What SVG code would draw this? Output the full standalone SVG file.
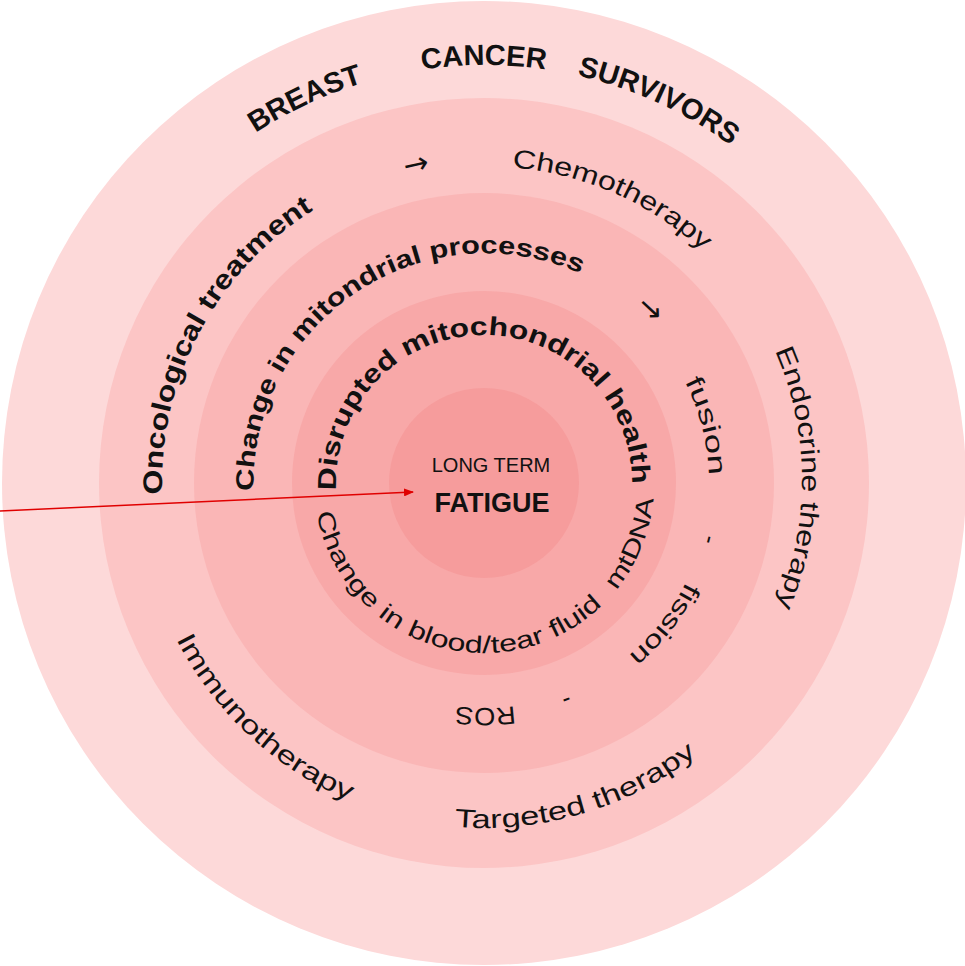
<svg xmlns="http://www.w3.org/2000/svg" width="965" height="966" viewBox="0 0 965 966">
<style>
text{font-family:"Liberation Sans","DejaVu Sans",sans-serif;fill:#111}
.b{font-weight:bold}
.ar{font-family:"DejaVu Sans",sans-serif;font-size:30px}
</style>
<defs>
<path id="p418" d="M122,692 A418,418 0 0 1 846,274 A418,418 0 0 1 122,692"/>
<path id="p322" d="M205.1,644 A322,322 0 0 1 762.9,322 A322,322 0 0 1 205.1,644"/>
<path id="p320" d="M206.9,643 A320,320 0 0 1 761.1,323 A320,320 0 0 1 206.9,643"/>
<path id="p232" d="M283.1,599 A232,232 0 0 1 684.9,367 A232,232 0 0 1 283.1,599"/>
<path id="p225" d="M289.1,595.5 A225,225 0 0 1 678.9,370.5 A225,225 0 0 1 289.1,595.5"/>
<path id="p148" d="M355.8,557 A148,148 0 0 1 612.2,409 A148,148 0 0 1 355.8,557"/>
<path id="q345" d="M139,483 A345,345 0 0 0 829,483"/>
<path id="q170" d="M314,483 A170,170 0 0 0 654,483"/>
<marker id="ah" markerWidth="10" markerHeight="8" refX="9" refY="4" orient="auto" markerUnits="userSpaceOnUse"><path d="M0,0 L10,4 L0,8 z" fill="#e00000"/></marker>
</defs>
<g id="rings">
<circle cx="484" cy="483" r="482" fill="#fdd9d9"/>
<circle cx="484" cy="483" r="385" fill="#fcc5c5"/>
<circle cx="484" cy="483" r="290" fill="#fab6b6"/>
<circle cx="484" cy="483" r="192" fill="#f8a8a8"/>
<circle cx="484" cy="483" r="95" fill="#f69c9c"/>
</g>
<g id="outer-labels" font-size="29">
<text class="b" text-anchor="middle"><textPath href="#p418" startOffset="693">BREAST</textPath></text>
<text class="b" text-anchor="middle"><textPath href="#p418" startOffset="875">CANCER</textPath></text>
<text class="b" text-anchor="middle"><textPath href="#p418" startOffset="1054">SURVIVORS</textPath></text>
</g>
<g id="treatment" font-size="26">
<text class="b" font-size="27"><textPath href="#p322" startOffset="157" textLength="337" lengthAdjust="spacingAndGlyphs">Oncological treatment</textPath></text>
<text class="ar"><textPath href="#p320" startOffset="585">→</textPath></text>
<text><textPath href="#p320" startOffset="692" textLength="212" lengthAdjust="spacingAndGlyphs">Chemotherapy</textPath></text>
<text><textPath href="#p320" startOffset="1028" textLength="262" lengthAdjust="spacingAndGlyphs">Endocrine  therapy</textPath></text>
<text><textPath href="#q345" startOffset="162" textLength="241" lengthAdjust="spacingAndGlyphs">Immunotherapy</textPath></text>
<text><textPath href="#q345" startOffset="512" textLength="259" lengthAdjust="spacingAndGlyphs">Targeted therapy</textPath></text>
</g>
<g id="processes" font-size="25">
<text class="b"><textPath href="#p232" startOffset="113" textLength="468" lengthAdjust="spacingAndGlyphs">Change in mitondrial processes</textPath></text>
<text class="ar"><textPath href="#p232" startOffset="645">→</textPath></text>
<text><textPath href="#p225" startOffset="719" textLength="98" lengthAdjust="spacingAndGlyphs">fusion</textPath></text>
<text text-anchor="middle"><textPath href="#p225" startOffset="880">-</textPath></text>
<text><textPath href="#p225" startOffset="927" textLength="94" lengthAdjust="spacingAndGlyphs">fission</textPath></text>
<text text-anchor="middle"><textPath href="#p225" startOffset="1096">-</textPath></text>
<text><textPath href="#p225" startOffset="1147" textLength="59" lengthAdjust="spacingAndGlyphs">ROS</textPath></text>
</g>
<g id="health" font-size="24">
<text class="b" font-size="26"><textPath href="#p148" startOffset="70" textLength="473" lengthAdjust="spacingAndGlyphs">Disrupted mitochondrial health</textPath></text>
<text><textPath href="#q170" startOffset="30" textLength="368" lengthAdjust="spacingAndGlyphs">Change in blood/tear fluid</textPath></text>
<text><textPath href="#q170" startOffset="418" textLength="100" lengthAdjust="spacingAndGlyphs">mtDNA</textPath></text>
</g>
<g id="center">
<text x="491" y="472" font-size="20" text-anchor="middle">LONG TERM</text>
<text x="492" y="512" font-size="27" class="b" text-anchor="middle">FATIGUE</text>
</g>
<g id="connectors">
<line x1="0" y1="511" x2="413" y2="492" stroke="#e00000" stroke-width="1.5" marker-end="url(#ah)"/>
</g>
</svg>
